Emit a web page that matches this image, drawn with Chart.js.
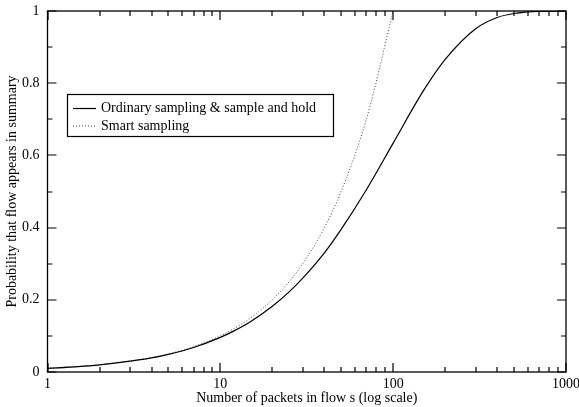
<!DOCTYPE html>
<html>
<head>
<meta charset="utf-8">
<script src="https://cdn.jsdelivr.net/npm/chart.js@4.4.1/dist/chart.umd.min.js"></script>
<style>
  html, body { margin: 0; padding: 0; background: #fff; }
  #wrap { width: 579px; height: 407px; }
</style>
</head>
<body>
<div id="wrap"><canvas id="myChart" width="579" height="407"></canvas></div>
<script>
// values
var packets = [1, 1.5, 2, 3, 4, 5, 7, 10, 12, 15, 20, 25, 30, 40, 50, 70, 100, 150, 200, 300, 400, 500, 700, 1000];
var ordinaryProb = [0.01, 0.015, 0.02, 0.03, 0.039, 0.049, 0.068, 0.096, 0.114, 0.14, 0.182, 0.222, 0.26, 0.33, 0.395, 0.505, 0.634, 0.78, 0.866, 0.951, 0.982, 0.993, 0.999, 1.0];
var smartPackets = [1, 1.5, 2, 3, 4, 5, 7, 10, 12, 15, 20, 25, 30, 40, 50, 70, 100];
var smartProb = [0.01, 0.015, 0.02, 0.03, 0.04, 0.05, 0.07, 0.1, 0.12, 0.15, 0.2, 0.25, 0.3, 0.4, 0.5, 0.7, 1.0];
var xTickLabels = [1, 10, 100, 1000];
var seriesNames = ["Ordinary sampling & sample and hold", "Smart sampling"];

var FONT = "'Liberation Serif', 'DejaVu Serif', serif";

function toPoints(xs, ys) {
  return xs.map(function (x, i) { return { x: x, y: ys[i] }; });
}

// box, inside ticks on all four sides, and legend
var framePlugin = {
  id: 'frame',
  afterDraw: function (chart) {
    var ctx = chart.ctx;
    var a = chart.chartArea;
    var xs = chart.scales.x, ys = chart.scales.y;
    ctx.save();
    ctx.setLineDash([]);
    ctx.strokeStyle = '#000';
    ctx.lineWidth = 1.3;
    ctx.strokeRect(a.left, a.top, a.right - a.left, a.bottom - a.top);

    ctx.lineWidth = 1.2;
    ctx.beginPath();
    // x ticks (log)
    for (var d = 1; d <= 1000; d *= 10) {
      for (var m = 1; m <= 9; m++) {
        var v = d * m;
        if (v > 1000) break;
        var px = Math.round(xs.getPixelForValue(v));
        var len = (m === 1) ? 9 : 5;
        ctx.moveTo(px, a.bottom); ctx.lineTo(px, a.bottom - len);
        ctx.moveTo(px, a.top); ctx.lineTo(px, a.top + len);
      }
    }
    // y ticks
    for (var k = 0; k <= 10; k++) {
      var py = Math.round(ys.getPixelForValue(k / 10));
      var l = (k % 2 === 0) ? 9 : 5;
      ctx.moveTo(a.left, py); ctx.lineTo(a.left + l, py);
      ctx.moveTo(a.right, py); ctx.lineTo(a.right - l, py);
    }
    ctx.stroke();

    // legend
    var lx = 67.5, ly = 94.5, lw = 266, lh = 42;
    ctx.fillStyle = '#fff';
    ctx.fillRect(lx, ly, lw, lh);
    ctx.lineWidth = 1.2;
    ctx.strokeRect(lx, ly, lw, lh);
    ctx.font = '14px ' + FONT;
    ctx.textBaseline = 'middle';
    ctx.fillStyle = '#000';
    var rows = [108.5, 126];
    chart.data.datasets.forEach(function (ds, i) {
      ctx.beginPath();
      ctx.strokeStyle = ds.borderColor;
      ctx.lineWidth = ds.borderWidth;
      ctx.setLineDash(ds.borderDash || []);
      ctx.moveTo(73, rows[i]); ctx.lineTo(96, rows[i]);
      ctx.stroke();
      ctx.setLineDash([]);
      ctx.fillText(ds.label, 101, rows[i]);
    });
    ctx.restore();
  }
};

var chart = new Chart(document.getElementById('myChart'), {
  type: 'line',
  data: {
    datasets: [
      {
        label: seriesNames[0],
        data: toPoints(packets, ordinaryProb),
        borderColor: '#000',
        borderWidth: 1.2,
        pointRadius: 0,
        cubicInterpolationMode: 'monotone',
        fill: false
      },
      {
        label: seriesNames[1],
        data: toPoints(smartPackets, smartProb),
        borderColor: '#444',
        borderWidth: 1,
        borderDash: [1, 2],
        pointRadius: 0,
        cubicInterpolationMode: 'monotone',
        fill: false
      }
    ]
  },
  plugins: [framePlugin],
  options: {
    responsive: false,
    animation: false,
    events: [],
    layout: { padding: { top: 11, right: 13, left: 0, bottom: 0 } },
    plugins: { legend: { display: false }, tooltip: { enabled: false } },
    scales: {
      x: {
        type: 'logarithmic',
        min: 1,
        max: 1000,
        afterFit: function (s) {
          s.height = 35;
          s.paddingLeft = 0; s.paddingRight = 0;
        },
        grid: { display: false, drawTicks: false },
        border: { display: false },
        ticks: {
          autoSkip: false,
          maxRotation: 0,
          padding: 4,
          color: '#000',
          font: { family: FONT, size: 14 },
          callback: function (v) { return xTickLabels.indexOf(v) >= 0 ? String(v) : ''; }
        },
        title: {
          display: true,
          text: 'Number of packets in flow s (log scale)',
          color: '#000',
          font: { family: FONT, size: 14 },
          padding: { top: 2, bottom: 0 }
        }
      },
      y: {
        min: 0,
        max: 1,
        afterFit: function (s) {
          s.width = 47.5;
          s.paddingTop = 0; s.paddingBottom = 0;
        },
        grid: { display: false, drawTicks: false },
        border: { display: false },
        ticks: {
          stepSize: 0.2,
          padding: 8,
          color: '#000',
          font: { family: FONT, size: 14 },
          callback: function (v) { return String(Math.round(v * 10) / 10); }
        },
        title: {
          display: true,
          text: 'Probability that flow appears in summary',
          color: '#000',
          font: { family: FONT, size: 14 },
          padding: { top: 4, bottom: 0 }
        }
      }
    }
  }
});
</script>
</body>
</html>
